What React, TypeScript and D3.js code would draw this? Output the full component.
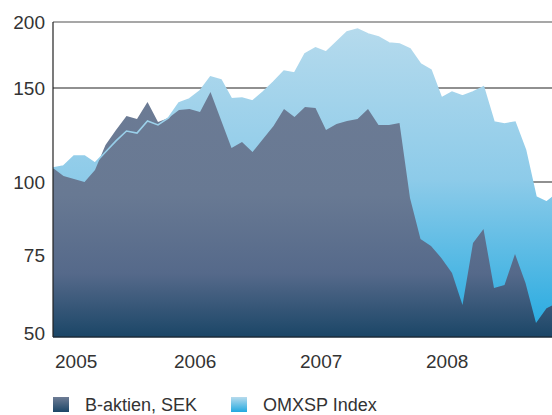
import * as d3 from "d3";

// monthly index values, Jan 2005 .. Jan 2009
const bAktien = [
  106.2, 102.6, 101.3, 100, 105.3, 117.3, 125.1, 132.9, 131.2, 141.2, 129.5, 131.8,
  136.4, 137.0, 135.3, 147.4, 130.6, 115.8, 118.8, 113.8, 120.4, 127.3, 137.0, 132.4,
  138.2, 137.6, 125.1, 128.4, 130.1, 131.2, 137.0, 127.9, 127.9, 129.0, 93.9, 79.9,
  77.7, 73.8, 68.4, 58.0, 78.6, 83.1, 63.3, 64.3, 75.3, 65.0, 52.9, 57.1, 58.6,
];
const omxsp = [
  106.2, 107.1, 111.9, 111.9, 108.5, 113.8, 119.4, 124.6, 123.5, 130.1, 127.9, 131.8,
  140.6, 143.1, 148.1, 157.4, 155.3, 143.1, 143.7, 141.8, 147.4, 154.0, 161.5, 160.1,
  174.0, 178.6, 175.5, 183.3, 191.5, 194.0, 189.8, 187.3, 182.5, 181.7, 177.8, 166.5,
  162.2, 143.7, 147.4, 144.9, 147.4, 150.7, 129.5, 128.4, 129.5, 114.8, 94.3, 92.4, 95.4,
];
const yTicks = [200, 150, 100, 75, 50];
const years = ["2005", "2006", "2007", "2008"];
const legendItems = [
  { label: "B-aktien, SEK", fill: "url(#legendDark)" },
  { label: "OMXSP Index", fill: "url(#legendLight)" },
];

const W = 552;
const H = 415;
const left = 53;
const top = 22;
const bottom = 337;
const font = "'Liberation Sans', Arial, Helvetica, sans-serif";

export default function App() {
  const x = d3.scaleLinear().domain([0, 48]).range([left, left + 48 * 10.5]);
  // the printed axis is not a clean log scale, so map tick by tick
  const y = d3
    .scaleLog()
    .domain([200, 150, 100, 75, 50])
    .range([top, 88, 182, 255, 334]);

  const area = d3
    .area<number>()
    .x((_, i) => x(i))
    .y0(bottom)
    .y1((d) => y(d));
  const line = d3
    .line<number>()
    .x((_, i) => x(i))
    .y((d) => y(d));

  return (
    <div style={{ position: "absolute", left: 0, top: 0 }}>
      <svg width={W} height={H} style={{ display: "block" }}>
        <defs>
          <linearGradient id="darkGrad" gradientUnits="userSpaceOnUse" x1="0" y1={top} x2="0" y2={bottom}>
            <stop offset="0" stopColor="#6e7c95" />
            <stop offset="0.55" stopColor="#687993" />
            <stop offset="0.8" stopColor="#55698a" />
            <stop offset="1" stopColor="#1b4667" />
          </linearGradient>
          <linearGradient id="lightGrad" gradientUnits="userSpaceOnUse" x1="0" y1={top} x2="0" y2={bottom}>
            <stop offset="0" stopColor="#b7dbed" />
            <stop offset="0.5" stopColor="#8dcbe9" />
            <stop offset="1" stopColor="#22a9e0" />
          </linearGradient>
          <linearGradient id="legendDark" x1="0" y1="0" x2="0" y2="1">
            <stop offset="0" stopColor="#6e7c95" />
            <stop offset="1" stopColor="#1b4667" />
          </linearGradient>
          <linearGradient id="legendLight" x1="0" y1="0" x2="0" y2="1">
            <stop offset="0" stopColor="#b7dbed" />
            <stop offset="1" stopColor="#22a9e0" />
          </linearGradient>
        </defs>

        {yTicks.slice(1).map((t) => (
          <line key={t} x1={left} x2={W} y1={y(t)} y2={y(t)} stroke="#222" strokeWidth={1.2} />
        ))}

        <path d={area(omxsp) ?? ""} fill="url(#lightGrad)" />
        <path d={area(bAktien) ?? ""} fill="url(#darkGrad)" />
        <path d={line(omxsp) ?? ""} fill="none" stroke="url(#lightGrad)" strokeWidth={1.6} />

        <line x1={left} x2={W} y1={y(200)} y2={y(200)} stroke="#8a8a8a" strokeWidth={1.6} />
        <line x1={left} x2={left} y1={top} y2={bottom} stroke="#222" strokeWidth={1.2} />
        <line x1={left} x2={W} y1={bottom} y2={bottom} stroke="#1d2b38" strokeWidth={1.6} />

        {yTicks.map((t) => (
          <text
            key={t}
            x={45}
            y={Math.min(y(t), 333)}
            dy="0.36em"
            textAnchor="end"
            fontFamily={font}
            fontSize={19}
            fill="#333"
          >
            {t}
          </text>
        ))}

        {years.map((yr, i) => (
          <text
            key={yr}
            x={Math.max(x(i * 12) - 5, 55)}
            y={368}
            fontFamily={font}
            fontSize={19}
            fill="#333"
          >
            {yr}
          </text>
        ))}

        {legendItems.map((item, i) => (
          <g key={item.label} transform={`translate(${53 + i * 178},397)`}>
            <rect width={16} height={15} fill={item.fill} />
            <text x={32} y={14} fontFamily={font} fontSize={18} fill="#333">
              {item.label}
            </text>
          </g>
        ))}
      </svg>
    </div>
  );
}
